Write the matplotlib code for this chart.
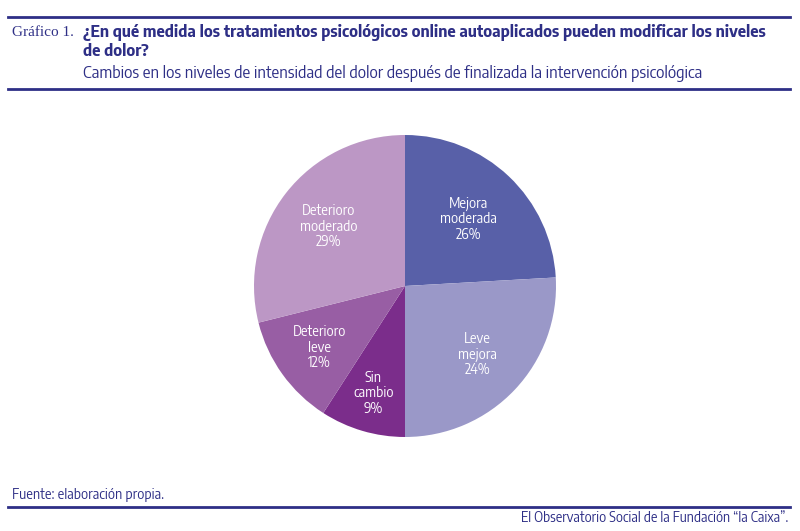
import numpy as np
import matplotlib.pyplot as plt
from matplotlib.lines import Line2D

plt.rcParams['font.family'] = ['Encode Sans Semi Condensed', 'Liberation Sans', 'DejaVu Sans']

# Datos
categorias = ['Mejora\nmoderada', 'Leve\nmejora', 'Sin\ncambio', 'Deterioro\nleve', 'Deterioro\nmoderado']
etiquetas_pct = ['26%', '24%', '9%', '12%', '29%']
# tamaño de los sectores tal como se dibujan en el gráfico
valores = [24.1, 25.9, 9.1, 12.0, 28.9]
colores = ['#5860a8', '#9a98c8', '#7b2d8b', '#985ea4', '#bc97c5']

azul = '#2e2f86'

fig = plt.figure(figsize=(8, 5.31), dpi=100)

# Pastel
ax = fig.add_axes([(405 - 151) / 800, 1 - (286 + 151) / 531, 302 / 800, 302 / 531])
wedges, _ = ax.pie(valores, colors=colores, startangle=90, counterclock=False,
                   wedgeprops=dict(linewidth=0))

# etiquetas dentro de cada sector
dist_etiquetas = [0.61, 0.66, 0.74, 0.7, 0.64]
for w, c, p, d in zip(wedges, categorias, etiquetas_pct, dist_etiquetas):
    ang = np.deg2rad((w.theta1 + w.theta2) / 2)
    ax.text(d * np.cos(ang), d * np.sin(ang), c + '\n' + p, color='white',
            fontsize=9.8, linespacing=1.15, ha='center', va='center')
ax.set_xlim(-1, 1)
ax.set_ylim(-1, 1)
ax.set_aspect('equal')

# Cabecera
def linea(y):
    fig.add_artist(Line2D([8 / 800, 790 / 800], [1 - y / 531, 1 - y / 531],
                          color=azul, linewidth=2))

linea(17)
linea(89)
linea(507)

fig.text(12 / 800, 1 - 33 / 531, 'Gráfico 1.', family='Liberation Serif', fontsize=11,
         color=azul, va='center')
fig.text(83 / 800, 1 - 42 / 531,
         '¿En qué medida los tratamientos psicológicos online autoaplicados pueden modificar los niveles\nde dolor?',
         fontsize=11.6, fontweight='bold', color=azul, va='center', linespacing=1.12)
fig.text(83 / 800, 1 - 73 / 531,
         'Cambios en los niveles de intensidad del dolor después de finalizada la intervención psicológica',
         fontsize=11.6, color=azul, va='center')

fig.text(12 / 800, 1 - 495 / 531, 'Fuente: elaboración propia.', fontsize=9.8,
         color=azul, va='center')
fig.text(788 / 800, 1 - 518 / 531, 'El Observatorio Social de la Fundación “la Caixa”.',
         fontsize=9.7, color=azul, va='center', ha='right')

fig.savefig('out.png', dpi=100)
